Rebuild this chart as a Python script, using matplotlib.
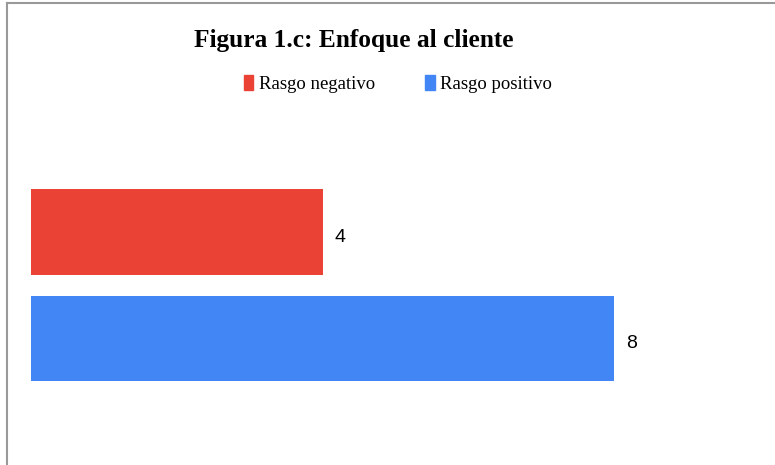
import matplotlib.pyplot as plt
from matplotlib.patches import Patch
from matplotlib.lines import Line2D

# datos del grafico
categorias = ['Rasgo positivo', 'Rasgo negativo']
valores = [8, 4]
colores = ['#4285F4', '#EA4335']

W, H = 775, 465
fig = plt.figure(figsize=(W / 100, H / 100), dpi=100)
fig.patch.set_facecolor('white')

# eje: x=0 en el pixel 31, y cubre desde el pixel 120 hasta abajo
ax = fig.add_axes([31 / W, 0, (760 - 31) / W, 345 / H])
pos = range(len(categorias))
ax.barh(pos, valores, height=0.8, color=colores)
ax.set_xlim(0, 10)
ax.set_ylim(-1.188, 2.052)
ax.axis('off')

for p, v in zip(pos, valores):
    ax.text(v + 0.16, p - 0.05, str(v), va='center', ha='left',
            fontsize=14, family='Liberation Sans')

# titulo y leyenda
fig.text(354 / W, 1 - 40 / H, 'Figura 1.c: Enfoque al cliente', ha='center', va='center',
         fontsize=18.3, fontweight='bold', family='Liberation Serif')

handles = [Patch(color=colores[1], label=categorias[1]),
           Patch(color=colores[0], label=categorias[0])]
fig.legend(handles=handles, loc='center', bbox_to_anchor=(398 / W, 1 - 84 / H), ncol=2,
           frameon=False, handlelength=0.5, handleheight=0.9, handletextpad=0.3,
           columnspacing=2.7, prop={'family': 'Liberation Serif', 'size': 13.5})

# borde del grafico (izquierda y arriba)
fig.add_artist(Line2D([7 / W, 7 / W], [0, 1 - 3 / H], color='#999999', lw=1.5, transform=fig.transFigure))
fig.add_artist(Line2D([7 / W, 1], [1 - 3 / H, 1 - 3 / H], color='#999999', lw=1.5, transform=fig.transFigure))

fig.savefig('out.png', dpi=100)
